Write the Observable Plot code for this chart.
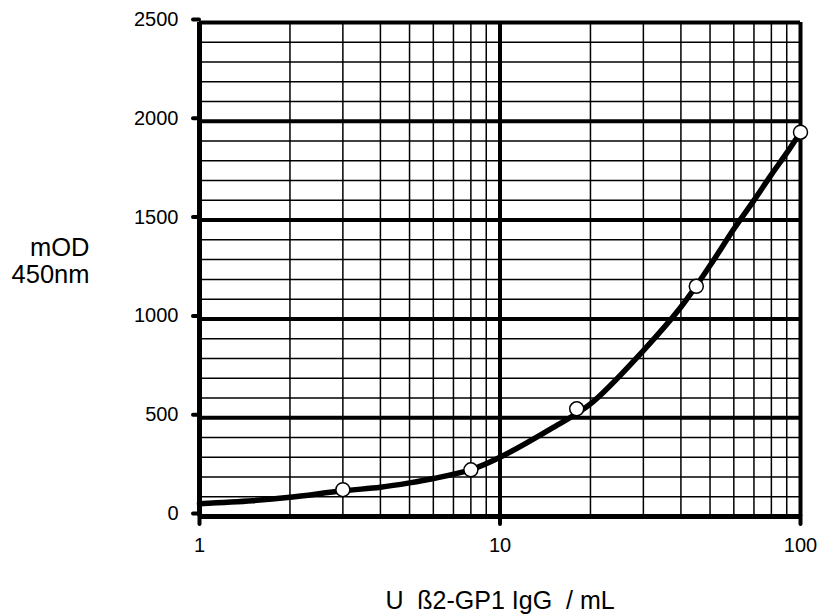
<!DOCTYPE html>
<html><head><meta charset="utf-8">
<script src="https://cdn.jsdelivr.net/npm/d3@7"></script>
<script src="https://cdn.jsdelivr.net/npm/@observablehq/plot@0.6"></script>
<style>
body{margin:0;background:#fff;}
#chart svg text{white-space:pre;}
</style>
</head><body><div id="chart"></div>
<script>
// Standard curve (smoothed line)
const curveX = [1, 1.5, 2, 3, 4, 5, 6, 8, 10, 15, 20, 30, 40, 50, 60, 70, 80, 90, 100];
const curveY = [65, 80, 97, 130, 148, 170, 192, 237, 300, 450, 570, 840, 1060, 1270, 1455, 1600, 1730, 1840, 1945];
// Calibrator points
const pointX = [3, 8, 18, 45, 100];
const pointY = [136, 236, 545, 1165, 1945];
// Ticks and grid
const xTicks = [1, 10, 100];
const yTicks = [0, 500, 1000, 1500, 2000, 2500];
const xMajor = [10, 100];
const yMajor = [500, 1000, 1500, 2000, 2500];
const xMinor = [2, 3, 4, 5, 6, 7, 8, 9, 20, 30, 40, 50, 60, 70, 80, 90];
const yMinor = [100, 200, 300, 400, 600, 700, 800, 900, 1100, 1200, 1300, 1400,
                1600, 1700, 1800, 1900, 2100, 2200, 2300, 2400];
const yTitle = "mOD\n450nm";
const xTitle = "U  ß2-GP1 IgG  / mL";

const curve = curveX.map((x, i) => ({x, y: curveY[i]}));
const points = pointX.map((x, i) => ({x, y: pointY[i]}));

const chart = Plot.plot({
  width: 821,
  height: 614,
  marginLeft: 199,
  marginRight: 21,
  marginTop: 22,
  marginBottom: 98,
  style: {fontFamily: "Arial, 'Liberation Sans', sans-serif", background: "#fff", color: "#000"},
  x: {type: "log", domain: [1, 100]},
  y: {domain: [0, 2500]},
  marks: [
    Plot.ruleY(yMinor, {stroke: "#000", strokeWidth: 1.5}),
    Plot.ruleX(xMinor, {stroke: "#000", strokeWidth: 1.5}),
    Plot.ruleY(yMajor, {stroke: "#000", strokeWidth: 4}),
    Plot.ruleX(xMajor, {stroke: "#000", strokeWidth: 4}),
    Plot.ruleY([0], {stroke: "#000", strokeWidth: 5}),
    Plot.ruleX([1], {stroke: "#000", strokeWidth: 5}),
    Plot.axisY(yTicks, {tickSize: 6, tickPadding: 15, strokeWidth: 4, strokeLinecap: "round",
      fontSize: 20, dy: -3, label: null, tickFormat: d => String(d)}),
    Plot.axisX(xTicks, {tickSize: 8, tickPadding: 13, strokeWidth: 4, strokeLinecap: "round",
      fontSize: 20, label: null, tickFormat: d => String(d)}),
    Plot.line(curve, {x: "x", y: "y", stroke: "#000", strokeWidth: 5.5, curve: "catmull-rom"}),
    Plot.dot(points, {x: "x", y: "y", r: 7, fill: "#fff", stroke: "#000", strokeWidth: 1.5}),
    Plot.text([yTitle], {frameAnchor: "left", dx: -110, dy: -9, textAnchor: "end",
      lineHeight: 1.06, fontSize: 25.5, fill: "#000"}),
    Plot.text([xTitle], {frameAnchor: "bottom", dy: 92, fontSize: 25, fill: "#000"})
  ]
});
document.getElementById("chart").appendChild(chart);
</script>
</body></html>
